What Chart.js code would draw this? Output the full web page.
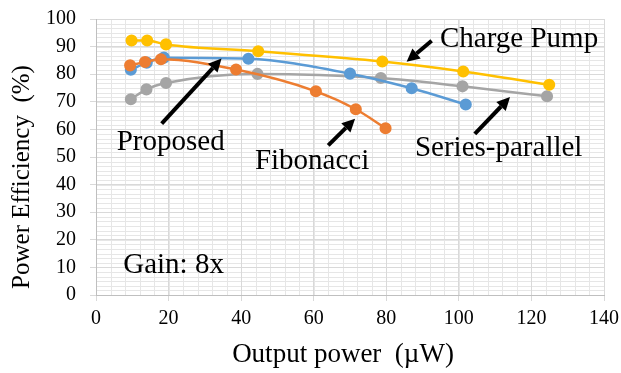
<!DOCTYPE html>
<html>
<head>
<meta charset="utf-8">
<script src="https://cdn.jsdelivr.net/npm/chart.js@4"></script>
<style>
  html, body { margin: 0; padding: 0; background: #fff; }
  #wrap { width: 621px; height: 373px; }
</style>
</head>
<body>
<div id="wrap"><canvas id="effChart"></canvas></div>
<script>
// Data (x: output power in uW, y: efficiency in %)
const chargePumpX = [9.8, 14.1, 19.3, 44.7, 78.9, 101.2, 124.9];
const chargePumpY = [92.2, 92.2, 90.8, 88.3, 84.6, 81.0, 76.2];
const proposedX = [9.6, 14.0, 18.7, 42.0, 70.0, 87.0, 101.9];
const proposedY = [81.6, 84.2, 86.0, 85.6, 80.2, 74.9, 69.0];
const fibonacciX = [9.4, 13.5, 17.9, 38.6, 60.6, 71.6, 79.8];
const fibonacciY = [83.2, 84.4, 85.4, 81.7, 73.8, 67.3, 60.4];
const seriesParX = [9.6, 13.9, 19.3, 44.5, 78.5, 101.0, 124.3];
const seriesParY = [70.9, 74.5, 76.8, 80.1, 78.6, 75.6, 72.0];

const xTicks = [0, 20, 40, 60, 80, 100, 120, 140];
const yTicks = [0, 10, 20, 30, 40, 50, 60, 70, 80, 90, 100];
const xTitle = 'Output power  (\u00b5W)';
const yTitle = 'Power Efficiency  (%)';

// Callout labels and arrows, in data units
const labelText = ['Charge Pump', 'Proposed', 'Fibonacci', 'Series-parallel', 'Gain: 8x'];
const labelAt = [[94.8, 89.8], [5.7, 52.6], [43.8, 45.5], [87.9, 50.5], [7.5, 8.1]];
const arrowFrom = [[92.5, 92.1], [18.1, 62.1], [64.0, 54.2], [104.4, 58.4]];
const arrowTo = [[85.6, 84.5], [34.6, 85.7], [71.4, 63.9], [114.1, 71.7]];

const colors = {
    chargePump: '#FFC000',
    proposed: '#5B9BD5',
    fibonacci: '#ED7D31',
    seriesPar: '#A5A5A5'
};
const serif = '"Liberation Serif", "Times New Roman", serif';

function pts(xs, ys) {
    return xs.map((x, i) => ({ x: x, y: ys[i] }));
}

function series(label, xs, ys, color, order) {
    return {
        label: label,
        data: pts(xs, ys),
        order: order,
        borderColor: color,
        backgroundColor: color,
        borderWidth: 2.5,
        pointRadius: 4.8,
        pointHoverRadius: 4.8,
        showLine: true,
        cubicInterpolationMode: 'monotone'
    };
}

// light minor grid, drawn before the scales
const minorGrid = {
    id: 'minorGrid',
    beforeDraw(chart) {
        const { ctx, chartArea: a, scales: { x, y } } = chart;
        ctx.save();
        ctx.strokeStyle = '#e6e6e6';
        ctx.lineWidth = 1;
        ctx.beginPath();
        for (let v = 0; v <= 140; v += 4) {
            const px = Math.round(x.getPixelForValue(v)) + 0.5;
            ctx.moveTo(px, a.top);
            ctx.lineTo(px, a.bottom);
        }
        for (let v = 0; v <= 100; v += 10 / 6) {
            const py = Math.round(y.getPixelForValue(v)) + 0.5;
            ctx.moveTo(a.left, py);
            ctx.lineTo(a.right, py);
        }
        ctx.stroke();
        ctx.restore();
    }
};

// axis titles, callout text and arrows
const callouts = {
    id: 'callouts',
    afterDatasetsDraw(chart) {
        const { ctx, chartArea: a, scales: { x, y } } = chart;
        ctx.save();
        ctx.fillStyle = '#000';
        ctx.strokeStyle = '#000';

        // axis titles
        ctx.font = '27px ' + serif;
        ctx.textAlign = 'center';
        ctx.textBaseline = 'alphabetic';
        ctx.fillText(xTitle, (a.left + a.right) / 2 - 7, chart.height - 11);
        ctx.save();
        ctx.font = '25px ' + serif;
        ctx.translate(22, (a.top + a.bottom) / 2 + 20);
        ctx.rotate(-Math.PI / 2);
        ctx.textBaseline = 'middle';
        ctx.fillText(yTitle, 0, 0);
        ctx.restore();

        ctx.font = '29px ' + serif;
        ctx.textAlign = 'left';
        ctx.textBaseline = 'alphabetic';
        labelText.forEach((t, i) => {
            ctx.fillText(t, x.getPixelForValue(labelAt[i][0]), y.getPixelForValue(labelAt[i][1]));
        });
        arrowFrom.forEach((f, i) => {
            const x0 = x.getPixelForValue(f[0]), y0 = y.getPixelForValue(f[1]);
            const x1 = x.getPixelForValue(arrowTo[i][0]), y1 = y.getPixelForValue(arrowTo[i][1]);
            const ang = Math.atan2(y1 - y0, x1 - x0);
            const head = 13, half = 6.5;
            const bx = x1 - head * Math.cos(ang), by = y1 - head * Math.sin(ang);
            ctx.lineWidth = 4;
            ctx.beginPath();
            ctx.moveTo(x0, y0);
            ctx.lineTo(bx, by);
            ctx.stroke();
            ctx.beginPath();
            ctx.moveTo(x1, y1);
            ctx.lineTo(bx - half * Math.sin(ang), by + half * Math.cos(ang));
            ctx.lineTo(bx + half * Math.sin(ang), by - half * Math.cos(ang));
            ctx.closePath();
            ctx.fill();
        });
        ctx.restore();
    }
};

new Chart(document.getElementById('effChart'), {
    type: 'scatter',
    data: {
        datasets: [
            series('Charge Pump', chargePumpX, chargePumpY, colors.chargePump, 0),
            series('Proposed', proposedX, proposedY, colors.proposed, 2),
            series('Fibonacci', fibonacciX, fibonacciY, colors.fibonacci, 1),
            series('Series-parallel', seriesParX, seriesParY, colors.seriesPar, 3)
        ]
    },
    options: {
        responsive: true,
        maintainAspectRatio: false,
        animation: false,
        layout: {
            padding: { left: 0, right: 17, top: 19, bottom: 0 }
        },
        plugins: {
            legend: { display: false },
            tooltip: { enabled: false }
        },
        scales: {
            x: {
                type: 'linear',
                min: 0,
                max: 140,
                afterBuildTicks: function (scale) {
                    scale.ticks = xTicks.map(v => ({ value: v }));
                },
                afterFit: function (scale) {
                    scale.height = 78;
                    scale.paddingLeft = 0;
                    scale.paddingRight = 0;
                },
                grid: {
                    color: '#d9d9d9',
                    tickLength: 6
                },
                border: { color: '#bfbfbf' },
                ticks: {
                    color: '#000',
                    padding: 6,
                    autoSkip: false,
                    maxRotation: 0,
                    font: { family: serif, size: 20 }
                }
            },
            y: {
                type: 'linear',
                min: 0,
                max: 100,
                afterBuildTicks: function (scale) {
                    scale.ticks = yTicks.map(v => ({ value: v }));
                },
                afterFit: function (scale) {
                    scale.width = 96;
                    scale.paddingTop = 0;
                    scale.paddingBottom = 0;
                },
                grid: {
                    color: '#d9d9d9',
                    tickLength: 6
                },
                border: { color: '#bfbfbf' },
                ticks: {
                    color: '#000',
                    padding: 14,
                    autoSkip: false,
                    font: { family: serif, size: 20 }
                }
            }
        }
    },
    plugins: [minorGrid, callouts]
});
</script>
</body>
</html>
